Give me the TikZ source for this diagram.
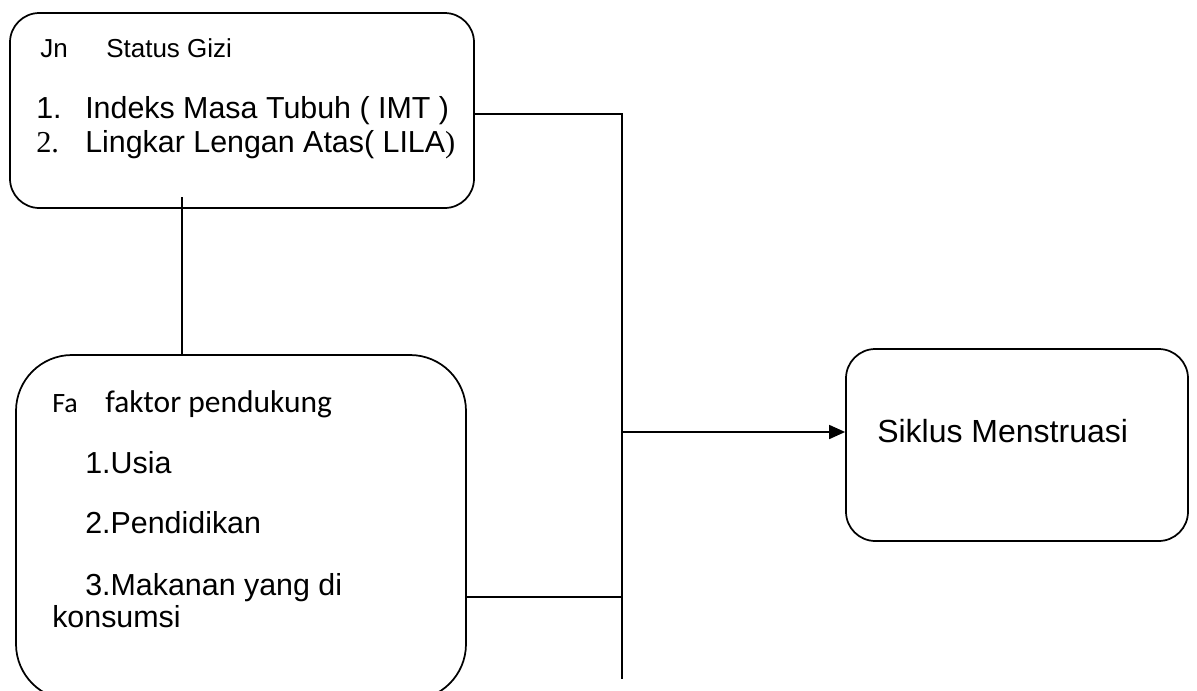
\documentclass[tikz,border=0pt]{standalone}
\usepackage{fontspec}
\setmainfont{Liberation Sans}
\newfontfamily\seriff{Liberation Serif}
\newfontfamily\calib{Carlito}
\usetikzlibrary{fit,arrows.meta}
\begin{document}
\begin{tikzpicture}[x=0.75pt,y=-0.75pt,
  box/.style={draw,line width=1.3pt,inner sep=0pt,rounded corners=#1},
  conn/.style={line width=1.3pt},
  txt/.style={anchor=base west,inner sep=0pt,font=\fontsize{22.8}{27}\selectfont},
  small/.style={anchor=base west,inner sep=0pt,font=\fontsize{19.5}{23}\selectfont}]
\useasboundingbox (0,0) rectangle (1197,690);
\clip (0,0) rectangle (1197,690);
% boxes
\node[box=22pt, fit={(10,13) (474,208)}] (b1) {};
\node[box=42pt, fit={(16,355) (466,700)}] (b2) {};
\node[box=22pt, fit={(846,349) (1188,541)}] (b3) {};
% box 1 text
\node[small] (t1a) at (40,57) {Jn};
\node[small] (t1b) at (106,57) {Status Gizi};
\node[txt] (t1c) at (36,118) {1.};
\node[txt] (t1d) at (85,118) {Indeks Masa Tubuh ( IMT )};
\node[txt,font=\fontsize{22.8}{27}\seriff] (t1e) at (36,152) {2.};
\node[txt] (t1f) at (85,152) {Lingkar Lengan Atas( LILA\seriff)};
% box 2 text
\node[anchor=base west,inner sep=0pt,font=\fontsize{21}{25}\calib] (t2a) at (52,412) {Fa};
\node[anchor=base west,inner sep=0pt,font=\fontsize{23.6}{28}\calib] (t2b) at (105,412) {faktor pendukung};
\node[txt] (t2c) at (85,473) {1.Usia};
\node[txt] (t2d) at (85,533) {2.Pendidikan};
\node[txt] (t2e) at (85,595) {3.Makanan yang di};
\node[txt] (t2f) at (52,627) {konsumsi};
% box 3 text
\node[anchor=base west,inner sep=0pt,font=\fontsize{24}{29}\selectfont] (t3) at (877,442) {Siklus Menstruasi};
% junctions
\coordinate (j1) at (622,114);
\coordinate (j2) at (622,432);
\coordinate (j3) at (622,597);
\coordinate (jb) at (622,679);
\coordinate (v1) at (182,197);
% connectors
\draw[conn] (b1.east |- j1) -- (j1) -- (jb);
\draw[conn] (b2.east |- j3) -- (j3);
\draw[conn,-{Triangle[length=12pt,width=10.5pt]}] (j2) -- (b3.west |- j2);
\draw[conn] (v1) -- (b2.north -| v1);
\end{tikzpicture}
\end{document}
